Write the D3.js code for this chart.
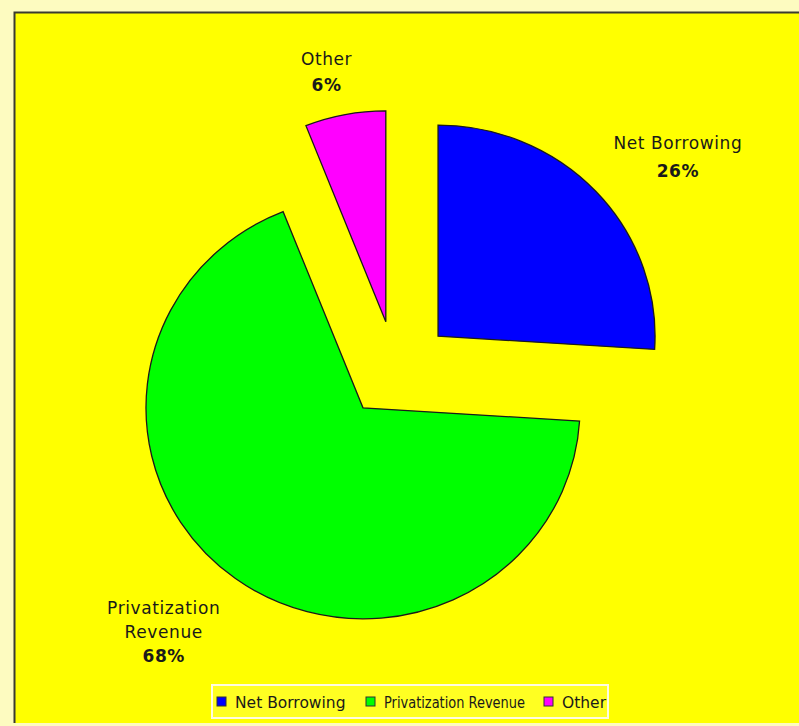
<!DOCTYPE html>
<html>
<head>
<meta charset="utf-8">
<script src="https://cdn.jsdelivr.net/npm/d3@7"></script>
<style>
  html, body { margin: 0; padding: 0; background: #fdfbc0; }
  svg { display: block; }
  text { font-family: "DejaVu Sans", sans-serif; fill: #1a1a1a; }
</style>
</head>
<body>
<svg id="chart" width="799" height="726"></svg>
<script>
// Funding sources (share of total, %)
const categories = ["Net Borrowing", "Privatization Revenue", "Other"];
const values = [26, 68, 6];
const colors = ["#0000ff", "#00ff00", "#ff00ff"];
// Slice label lines (name split over lines, then the percentage)
const labelLines = [["Net Borrowing"], ["Privatization", "Revenue"], ["Other"]];

const W = 799, H = 726;
const svg = d3.select("#chart");

// Outer frame: pale margin, yellow plot panel with dark top/left edge
svg.append("rect").attr("x", 0).attr("y", 0).attr("width", W).attr("height", H).attr("fill", "#fdfbc0");
svg.append("rect").attr("x", 14).attr("y", 12).attr("width", W - 14).attr("height", 711).attr("fill", "#ffff00");
svg.append("path").attr("d", `M14.5,723 V12.5 H${W}`).attr("fill", "none").attr("stroke", "#3a3a30").attr("stroke-width", 2);

const cx = 396.5, cy = 369;
const ry = 211, rx = 217;        // pie is drawn slightly wider than tall
const explodeX = 57, explodeY = 48;

const data = categories.map((c, i) => ({ name: c, value: values[i], color: colors[i], lines: labelLines[i] }));

const pie = d3.pie().sort(null).value(d => d.value).startAngle(0).endAngle(2 * Math.PI);
const arcs = pie(data);
const arc = d3.arc().innerRadius(0).outerRadius(ry);

const pieG = svg.append("g").attr("transform", `translate(${cx},${cy})`);

arcs.forEach(a => {
  const mid = (a.startAngle + a.endAngle) / 2;
  const ox = Math.sin(mid) * explodeX, oy = -Math.cos(mid) * explodeY;
  pieG.append("g")
    .attr("transform", `translate(${ox},${oy}) scale(${rx / ry},1)`)
    .append("path")
    .attr("d", arc(a))
    .attr("fill", a.data.color)
    .attr("stroke", "#1a1a1a")
    .attr("stroke-width", 1.3)
    .attr("vector-effect", "non-scaling-stroke")
    .attr("stroke-linejoin", "miter");
});

// Slice labels, placed outside each exploded slice along its mid angle
const labelDist = [362, 352, 285];
const labelShift = [[10, 37], [-20, -21], [-15, -16]];
const labelStep = [28, 24, 26];
arcs.forEach((a, i) => {
  const mid = (a.startAngle + a.endAngle) / 2;
  const lx = cx + Math.sin(mid) * labelDist[i] * (rx / ry) + labelShift[i][0];
  const ly = cy - Math.cos(mid) * labelDist[i] + labelShift[i][1];
  const lines = a.data.lines.concat([d3.format(".0%")(a.data.value / d3.sum(values))]);
  const t = svg.append("text").attr("text-anchor", "middle").attr("font-size", 17)
    .attr("letter-spacing", 0.6);
  const step = labelStep[i];
  const y0 = ly - (lines.length - 1) * step / 2;
  lines.forEach((s, k) => {
    t.append("tspan").attr("x", lx).attr("y", y0 + k * step + 5).text(s)
      .attr("font-weight", k === lines.length - 1 ? "bold" : "normal");
  });
});

// Legend
const legendG = svg.append("g");
legendG.append("rect").attr("x", 212).attr("y", 685).attr("width", 396).attr("height", 33)
  .attr("fill", "#ffff22").attr("stroke", "#fffbe0").attr("stroke-width", 2);
const legendX = [217, 366, 544];
data.forEach((d, i) => {
  legendG.append("rect").attr("x", legendX[i]).attr("y", 697).attr("width", 9).attr("height", 9)
    .attr("fill", d.color).attr("stroke", "#333").attr("stroke-width", 1);
  legendG.append("text").attr("x", legendX[i] + 18).attr("y", 708).attr("font-size", 15.5)
    .attr("textLength", i === 1 ? 141 : null)
    .attr("lengthAdjust", "spacingAndGlyphs")
    .text(d.name);
});
</script>
</body>
</html>
